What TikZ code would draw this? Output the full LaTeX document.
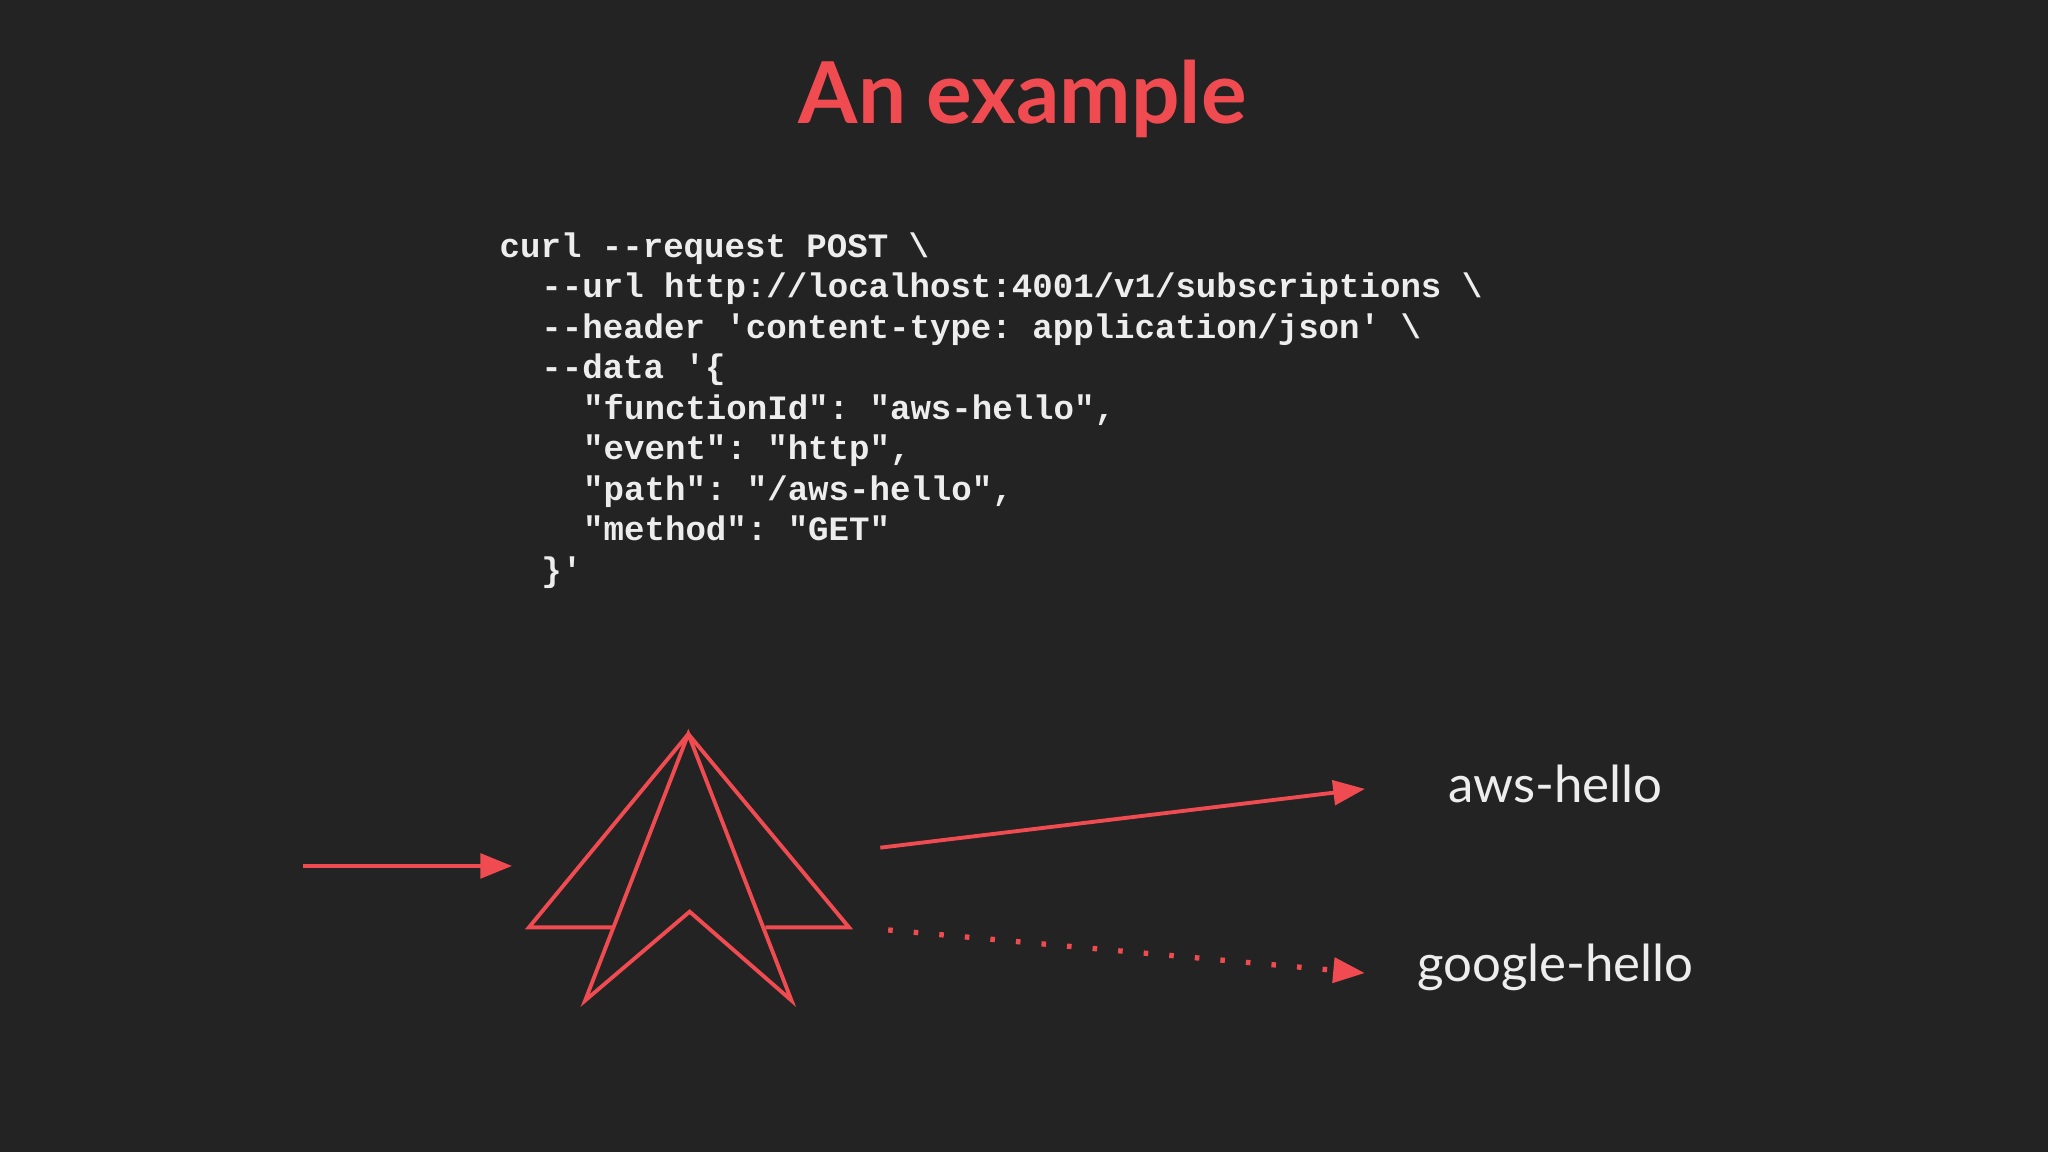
\documentclass[tikz,border=0pt]{standalone}
\usepackage{fontspec}
\setmainfont{Lato}
\setmonofont{Liberation Mono}
\usetikzlibrary{arrows.meta}
\definecolor{bg}{HTML}{232323}
\definecolor{accent}{HTML}{F04B50}
\definecolor{codec}{HTML}{EDEDED}
\tikzset{
  codeline/.style={anchor=base west,inner sep=0pt,text=codec,font=\ttfamily\bfseries\fontsize{9.7pt}{11pt}\selectfont},
  logo/.style={draw=accent,line width=1.1pt,line join=miter},
  conn/.style={draw=accent,line width=1.1pt,-{Triangle[length=9pt,width=7pt]}},
  lbl/.style={text=codec,font=\fontsize{14.5pt}{18pt}\selectfont}
}
\begin{document}
\begin{tikzpicture}[x=0.013061cm,y=-0.013061cm]
\fill[bg] (0,0) rectangle (1568,882);
\useasboundingbox (0,0) rectangle (1568,882);
\node[text=accent,font=\bfseries\fontsize{24.3pt}{30pt}\selectfont] (title) at (783,76) {An example};
\node[codeline] (c1) at (382,197) {curl --request POST \textbackslash};
\node[codeline] (c2) at (414,228) {--url http://localhost:4001/v1/subscriptions \textbackslash};
\node[codeline] (c3) at (414,259) {--header 'content-type: application/json' \textbackslash};
\node[codeline] (c4) at (414,290) {--data '\{};
\node[codeline] (c5) at (446,321) {"functionId": "aws-hello",};
\node[codeline] (c6) at (446,352) {"event": "http",};
\node[codeline] (c7) at (446,383) {"path": "/aws-hello",};
\node[codeline] (c8) at (446,414) {"method": "GET"};
\node[codeline] (c9) at (414,445) {\}'};
% logo
\draw[logo] (527,562) -- (448,766) -- (528,698) -- (606,766) -- cycle;
\draw[logo] (469,710) -- (405,710) -- (527,562) -- (650,710) -- (586,710);
% connectors
\coordinate (in0) at (232,663);
\coordinate (in1) at (392,663);
\coordinate (a0) at (674,649);
\coordinate (a1) at (1045,604);
\coordinate (g0) at (680,712);
\coordinate (g1) at (1045,745);
\node[lbl] (aws) at (1191,600) {aws-hello};
\node[lbl] (goog) at (1191,741) {google-hello};
\draw[conn] (in0) -- (in1);
\draw[conn] (a0) -- (a1);
\draw[conn,dash pattern=on 1.3pt off 6pt,line width=1.5pt] (g0) -- (g1);
\end{tikzpicture}
\end{document}
